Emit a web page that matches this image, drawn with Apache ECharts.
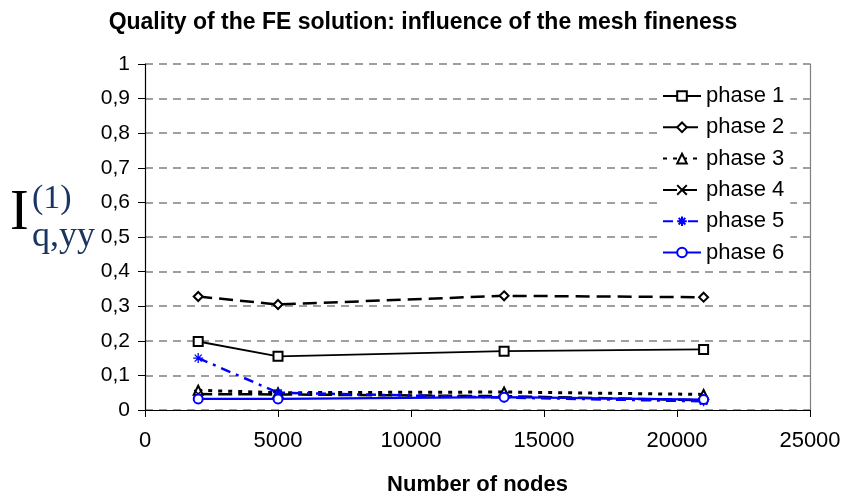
<!DOCTYPE html>
<html><head><meta charset="utf-8">
<script src="https://cdn.jsdelivr.net/npm/echarts@6/dist/echarts.min.js"></script>
<style>html,body{margin:0;padding:0;background:#fff}#c{width:846px;height:501px}</style>
</head><body><div id="c"></div>
<script>
var nodes = [2000, 5000, 13500, 21000];
var phaseNames = ['phase 1','phase 2','phase 3','phase 4','phase 5','phase 6'];
var phase1 = [0.198, 0.155, 0.170, 0.175];
var phase2 = [0.328, 0.305, 0.330, 0.326];
var phase3 = [0.057, 0.050, 0.052, 0.045];
var phase4 = [0.046, 0.045, 0.040, 0.028];
var phase5 = [0.150, 0.050, 0.036, 0.025];
var phase6 = [0.032, 0.032, 0.037, 0.030];
var yTicks = ['0','0,1','0,2','0,3','0,4','0,5','0,6','0,7','0,8','0,9','1'];
var xTicks = ['0','5000','10000','15000','20000','25000'];

var xMark = 'path://M0,0L10,10M10,0L0,10';
var starMark = 'path://M5,0L5,10M0,5L10,5M1.5,1.5L8.5,8.5M8.5,1.5L1.5,8.5';

function mk(name, vals, color, width, dash, symbol, size, pathSym){
  return {
    name: name, type: 'line',
    data: nodes.map(function(x,i){return [x, vals[i]];}),
    symbol: symbol, symbolSize: size,
    lineStyle: {color: color, width: width, type: dash},
    itemStyle: pathSym ? {color: 'rgba(0,0,0,0)', borderColor: color, borderWidth: 1.3} : {color: color, borderWidth: 1.3},
    emphasis: {disabled: true}
  };
}
var series = [
  mk(phaseNames[0], phase1, '#000', 1.8, 'solid', 'emptyRect', 9),
  mk(phaseNames[1], phase2, '#000', 2.5, [14,7], 'emptyDiamond', 9),
  mk(phaseNames[2], phase3, '#000', 3, [4,6], 'emptyTriangle', 9),
  mk(phaseNames[3], phase4, '#000', 2.5, [14,6], xMark, 8, true),
  mk(phaseNames[4], phase5, '#0000ff', 2.5, [10,6,3,6], starMark, 10, true),
  mk(phaseNames[5], phase6, '#0000ff', 2.2, 'solid', 'emptyCircle', 9)
];

var chart = echarts.init(document.getElementById('c'), null, {renderer:'canvas'});
chart.setOption({
  animation: false,
  backgroundColor: '#fff',
  title: {
    text: 'Quality of the FE solution: influence of the mesh fineness',
    left: 'center', top: 6,
    textStyle: {fontFamily: 'Liberation Sans, Arial', fontWeight: 'bold', fontSize: 23, color: '#000'}
  },
  grid: {left: 145, right: 36, top: 64, bottom: 87},
  legend: {
    orient: 'vertical', left: 658, top: 81,
    itemWidth: 38, itemHeight: 12, itemGap: 9.3,
    backgroundColor: '#fff', padding: [4,6,4,4],
    textStyle: {fontFamily: 'Liberation Sans, Arial', fontSize: 22, color: '#000'},
    data: phaseNames
  },
  xAxis: {
    type: 'value', min: 0, max: 25000, interval: 5000,
    name: 'Number of nodes', nameLocation: 'middle', nameGap: 64,
    nameTextStyle: {fontFamily: 'Liberation Sans, Arial', fontWeight: 'bold', fontSize: 22, color: '#000'},
    axisLine: {lineStyle: {color: '#000', width: 1.2}},
    axisTick: {show: true, length: 7, lineStyle: {color: '#000'}},
    axisLabel: {fontFamily: 'Liberation Sans, Arial', fontSize: 22, color: '#000', margin: 20,
      formatter: function(v){ return xTicks[Math.round(v/5000)]; }},
    splitLine: {show: false}
  },
  yAxis: [{
    type: 'value', min: 0, max: 1, interval: 0.1,
    axisLine: {show: true, onZero: false, lineStyle: {color: '#000', width: 1.2}},
    axisTick: {show: true, length: 7, lineStyle: {color: '#000'}},
    axisLabel: {fontFamily: 'Liberation Sans, Arial', fontSize: 21, color: '#000', margin: 15,
      formatter: function(v){ return yTicks[Math.round(v*10)]; }},
    splitLine: {show: true, lineStyle: {color: '#808080', width: 1.5, type: [8,6]}}
  },{
    type: 'value', min: 0, max: 1, interval: 0.1, position: 'right',
    axisLine: {show: true, onZero: false, lineStyle: {color: '#808080', width: 1.2}},
    axisTick: {show: false}, axisLabel: {show: false}, splitLine: {show: false}
  }],
  graphic: [
    {type: 'text', left: 10, top: 186, style: {text: 'I', font: '56px "Liberation Serif", "Times New Roman", serif', fill: '#000'}},
    {type: 'text', left: 32, top: 182, style: {text: '(1)', font: '34px "Liberation Serif", "Times New Roman", serif', fill: '#1a3560'}},
    {type: 'text', left: 32, top: 219, style: {text: 'q,yy', font: '36px "Liberation Serif", "Times New Roman", serif', fill: '#1a3560'}}
  ],
  series: series
});
</script></body></html>
